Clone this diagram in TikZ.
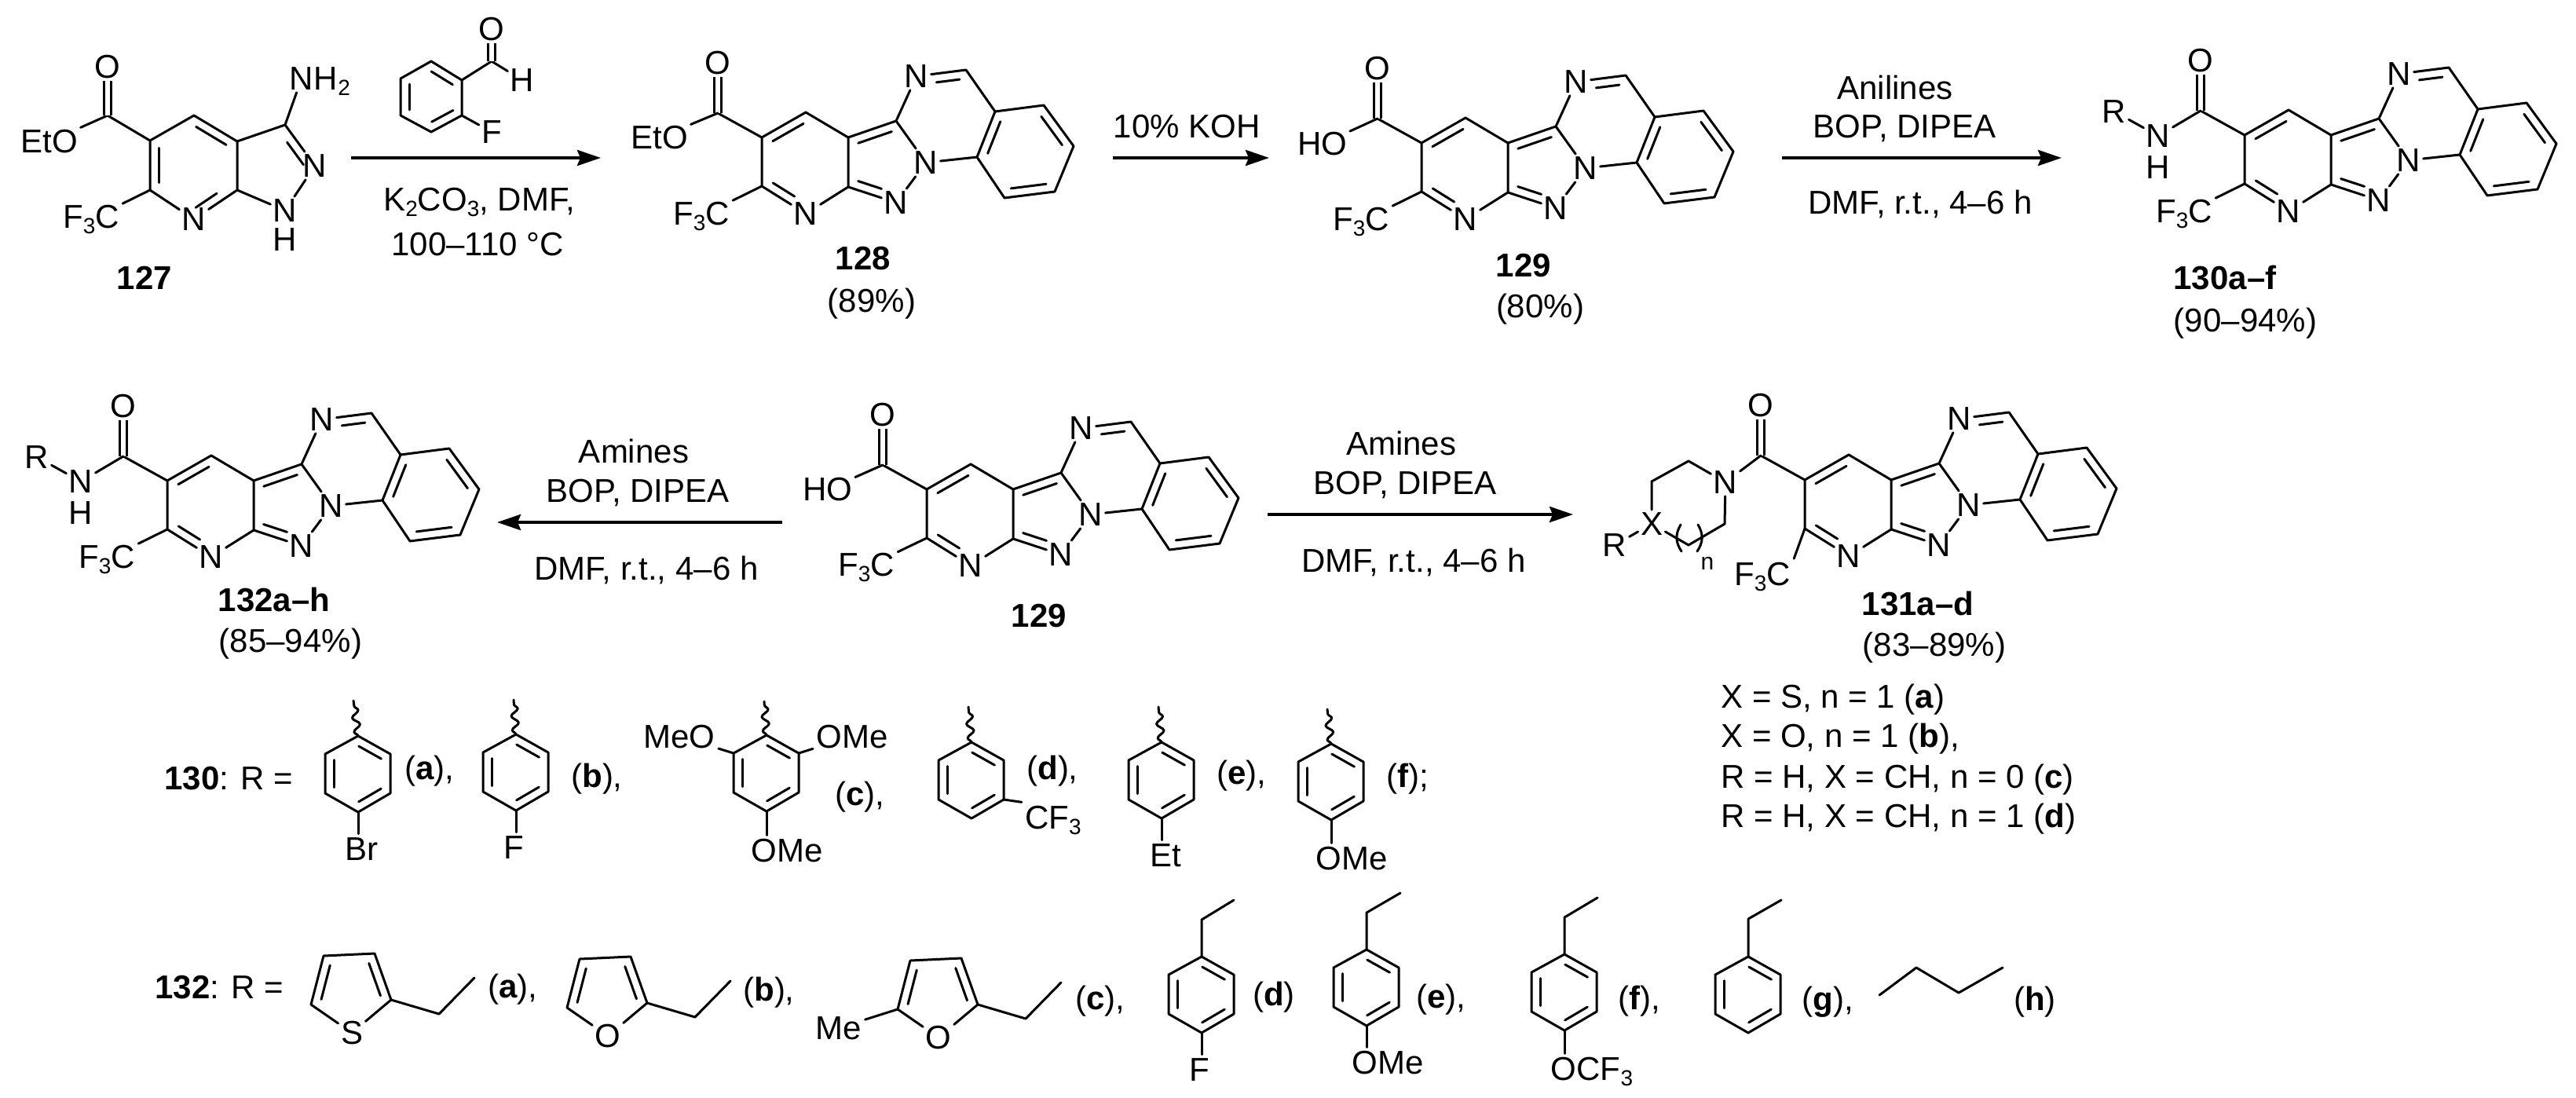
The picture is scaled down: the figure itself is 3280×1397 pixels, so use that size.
\documentclass[tikz,border=0pt]{standalone}
\usepackage{fontspec}
\setmainfont{Liberation Sans}
\usetikzlibrary{calc,arrows.meta,decorations.pathmorphing}

\tikzset{
  bond/.style={line width=1.5pt,line cap=round,line join=round},
  dblbond/.style={line width=1.4pt,double,double distance=3pt},
  wavy/.style={bond,decorate,decoration={snake,amplitude=2.2pt,segment length=9pt}},
  rxnarrow/.style={line width=2.1pt,-{Stealth[length=15pt,width=10pt,inset=2pt]}},
  atom/.style={inner sep=1.5pt},
  lab/.style={inner sep=0pt,anchor=base},
  sublab/.style={inner sep=2pt,anchor=base},
}
\newcommand{\sbs}[1]{\raisebox{-3.5pt}{\fontsize{14}{14}\selectfont #1}}
\newcommand{\inbond}[3][.15]{\draw[bond] ($(#2)!.15!(#3)!5.5pt!90:(#3)$) -- ($(#3)!#1!(#2)!5.5pt!-90:(#2)$);}

% fused four rings, with the carbonyl
\newcommand{\corering}[3]{%
\begin{scope}[shift={(#2,#3)},name prefix=#1-]
  \coordinate (c3) at (0,0);
  \coordinate (c4) at (56,-32);
  \coordinate (c4a) at (110,0);
  \coordinate (c7a) at (110,63);
  \coordinate (c2) at (0,62);
  \coordinate (c3a) at (171,-21);
  \coordinate (ch) at (260,-86);
  \coordinate (c10a) at (297,-33);
  \coordinate (b1) at (359,-41);
  \coordinate (b2) at (397,11);
  \coordinate (b3) at (373,69);
  \coordinate (b4) at (309,77);
  \coordinate (b5) at (274,25);
  \coordinate (co) at (-56,-31);
  \node[atom] (n7) at (56,97) {N};
  \node[atom] (nt) at (197,-78) {N};
  \node[atom] (n1) at (209,32) {N};
  \node[atom] (nl) at (171,83) {N};
  \node[atom] (ox) at (-56,-95) {O};
  \draw[bond] (c3) -- (c4) -- (c4a) -- (c7a) -- (n7) -- (c2) -- (c3);
  \draw[bond] (c4a) -- (c3a) -- (nt) -- (ch) -- (c10a) -- (b1) -- (b2) -- (b3) -- (b4) -- (b5) -- (c10a);
  \draw[bond] (c3a) -- (n1) -- (b5);
  \draw[bond] (c7a) -- (nl) -- (n1);
  \draw[bond] (c3) -- (co);
  \draw[dblbond] (co) -- (ox);
  \inbond{c4}{c3}
  \inbond[.36]{c2}{n7}
  \inbond{c3a}{c4a}
  \inbond[.36]{c7a}{nl}
  \inbond[.38]{ch}{nt}
  \inbond{c10a}{b5}
  \inbond{b4}{b3}
  \inbond{b2}{b1}
\end{scope}}

% benzene ring hanging from its top corner
\newcommand{\phring}[3]{%
\begin{scope}[shift={(#2,#3)},name prefix=#1-]
  \coordinate (p1) at (0,0);
  \coordinate (p2) at (41,23);
  \coordinate (p3) at (41,73);
  \coordinate (p4) at (0,97);
  \coordinate (p5) at (-42,73);
  \coordinate (p6) at (-42,23);
  \draw[bond] (p1) -- (p2) -- (p3) -- (p4) -- (p5) -- (p6) -- cycle;
  \inbond{p2}{p1}
  \inbond{p6}{p5}
  \inbond{p4}{p3}
\end{scope}}

% thiophene or furan with its ethyl arm
\newcommand{\fivering}[4]{%
\begin{scope}[shift={(#2,#3)},name prefix=#1-]
  \coordinate (t1) at (0,0);
  \coordinate (t2) at (65,-3);
  \coordinate (t3) at (86,56);
  \coordinate (t4) at (-16,62);
  \coordinate (e1) at (147,74);
  \coordinate (e2) at (192,28);
  \node[atom] (het) at (36,98) {#4};
  \draw[bond] (t1) -- (t2) -- (t3) -- (het) -- (t4) -- (t1);
  \draw[bond] (t3) -- (e1) -- (e2);
  \inbond{t1}{t4}
  \inbond{t3}{t2}
\end{scope}}

% secondary amide side, hung on the carbonyl of the same prefix
\newcommand{\rnhgroup}[3]{%
\begin{scope}[shift={(#2,#3)},name prefix=#1-]
  \node[atom] (nn) at (-110,1) {N};
  \node[atom] (hh) at (-110,41) {H};
  \node[atom] (rr) at (-166,-30) {R};
  \draw[bond] (co) -- (nn);
  \draw[bond] (rr) -- (nn);
\end{scope}}

\begin{document}
\begin{tikzpicture}[x=.5pt,y=-.5pt,every node/.style={font=\fontsize{21}{25}\selectfont}]
  \useasboundingbox (0,0) rectangle (3280,1397);

  % 127
  \coordinate (s-c5) at (191,179);
  \coordinate (s-c4) at (247,147);
  \coordinate (s-c3a) at (302,180);
  \coordinate (s-c7a) at (302,242);
  \coordinate (s-c6) at (191,242);
  \coordinate (s-c3) at (363,159);
  \coordinate (s-co) at (137,147);
  \node[atom] (s-n7) at (247,279) {N};
  \node[atom] (s-n2) at (401,211) {N};
  \node[atom] (s-n1) at (363,268) {N};
  \node[atom] (s-h1) at (363,305) {H};
  \node[atom] (s-nam) at (384,100) {N};
  \node[lab,anchor=base west,xshift=-1.5pt] (s-h2) at (s-nam.base east) {H\sbs{2}};
  \node[atom] (s-ox) at (137,85) {O};
  \node[atom] (s-eto) at (63,180) {EtO};
  \node[sublab] (s-cf) at (116,290) {F\sbs{3}C};
  \draw[bond] (s-c5) -- (s-c4) -- (s-c3a) -- (s-c7a) -- (s-n7) -- (s-c6) -- (s-c5);
  \draw[bond] (s-c3a) -- (s-c3) -- (s-n2) -- (s-n1) -- (s-c7a);
  \draw[bond] (s-c3) -- (s-nam);
  \draw[bond] (s-c5) -- (s-co) -- (s-eto);
  \draw[bond] (s-c6) -- (s-cf);
  \draw[dblbond] (s-co) -- (s-ox);
  \inbond{s-c5}{s-c6}
  \inbond{s-c3a}{s-c4}
  \inbond[.36]{s-n7}{s-c7a}
  \inbond[.3]{s-n2}{s-c3}
  \node[lab] (s-no) at (184,368) {\textbf{127}};

  % aldehyde over the first arrow
  \coordinate (r1) at (549,78);
  \coordinate (r2) at (588,102);
  \coordinate (r3) at (588,147);
  \coordinate (r4) at (549,168);
  \coordinate (r5) at (510,147);
  \coordinate (r6) at (510,100);
  \coordinate (r-cho) at (626,78);
  \node[atom] (r-ox) at (626,37) {O};
  \node[atom] (r-h) at (665,102) {H};
  \node[atom] (r-f) at (626,168) {F};
  \draw[bond] (r1) -- (r2) -- (r3) -- (r4) -- (r5) -- (r6) -- cycle;
  \inbond{r2}{r1}
  \inbond{r6}{r5}
  \inbond{r4}{r3}
  \draw[bond] (r2) -- (r-cho) -- (r-h);
  \draw[bond] (r3) -- (r-f);
  \draw[dblbond] (r-cho) -- (r-ox);

  \coordinate (ar1a) at (447,201);
  \coordinate (ar1b) at (765,201);
  \draw[rxnarrow] (ar1a) -- (ar1b);
  \node[lab] (ar1c) at (610,268) {K\sbs{2}CO\sbs{3}, DMF,};
  \node[lab] (ar1d) at (608,325) {100–110 °C};

  % 128
  \corering{b}{970}{175}
  \node[atom] (b-eto) at (840,175) {EtO};
  \node[sublab] (b-cf) at (893,286) {F\sbs{3}C};
  \draw[bond] (b-co) -- (b-eto);
  \draw[bond] (b-c2) -- (b-cf);
  \node[lab] (b-no) at (1099,343) {\textbf{128}};
  \node[lab] (b-yd) at (1110,397) {(89\%)};

  \coordinate (ar2a) at (1417,201);
  \coordinate (ar2b) at (1616,201);
  \draw[rxnarrow] (ar2a) -- (ar2b);
  \node[lab] (ar2c) at (1511,175) {10\% KOH};

  % 129
  \corering{c}{1810}{182}
  \node[atom] (c-oh) at (1684,183) {HO};
  \node[sublab] (c-cf) at (1733,293) {F\sbs{3}C};
  \draw[bond] (c-co) -- (c-oh);
  \draw[bond] (c-c2) -- (c-cf);
  \node[lab] (c-no) at (1940,352) {\textbf{129}};
  \node[lab] (c-yd) at (1961,404) {(80\%)};

  \coordinate (ar3a) at (2269,201);
  \coordinate (ar3b) at (2625,201);
  \draw[rxnarrow] (ar3a) -- (ar3b);
  \node[lab] (ar3c) at (2413,126) {Anilines};
  \node[lab] (ar3d) at (2425,175) {BOP, DIPEA};
  \node[lab] (ar3e) at (2445,272) {DMF, r.t., 4–6 h};

  % 130
  \corering{d}{2858}{172}
  \rnhgroup{d}{2858}{172}
  \node[sublab] (d-cf) at (2781,283) {F\sbs{3}C};
  \draw[bond] (d-c2) -- (d-cf);
  \node[lab] (d-no) at (2833,368) {\textbf{130a–f}};
  \node[lab] (d-yd) at (2859,422) {(90–94\%)};

  % 132
  \corering{f}{213}{612}
  \rnhgroup{f}{213}{612}
  \node[sublab] (f-cf) at (136,723) {F\sbs{3}C};
  \draw[bond] (f-c2) -- (f-cf);
  \node[lab] (f-no) at (349,778) {\textbf{132a–h}};
  \node[lab] (f-yd) at (370,830) {(85–94\%)};

  \coordinate (ar4a) at (996,665);
  \coordinate (ar4b) at (633,665);
  \draw[rxnarrow] (ar4a) -- (ar4b);
  \node[lab] (ar4c) at (807,589) {Amines};
  \node[lab] (ar4d) at (812,639) {BOP, DIPEA};
  \node[lab] (ar4e) at (823,738) {DMF, r.t., 4–6 h};

  % 129 again
  \corering{g}{1180}{623}
  \node[atom] (g-oh) at (1054,623) {HO};
  \node[sublab] (g-cf) at (1103,733) {F\sbs{3}C};
  \draw[bond] (g-co) -- (g-oh);
  \draw[bond] (g-c2) -- (g-cf);
  \node[lab] (g-no) at (1323,798) {\textbf{129}};

  \coordinate (ar5a) at (1614,655);
  \coordinate (ar5b) at (2003,655);
  \draw[rxnarrow] (ar5a) -- (ar5b);
  \node[lab] (ar5c) at (1784,579) {Amines};
  \node[lab] (ar5d) at (1789,629) {BOP, DIPEA};
  \node[lab] (ar5e) at (1800,728) {DMF, r.t., 4–6 h};

  % 131
  \corering{h}{2298}{611}
  \node[sublab] (h-cf) at (2244,745) {F\sbs{3}C};
  \draw[bond] (h-c2) -- (h-cf.north east);
  \node[atom] (h-nn) at (2197,614) {N};
  \node[atom] (h-x) at (2103,667) {X};
  \node[atom] (h-r) at (2056,694) {R};
  \coordinate (h-q1) at (2150,587);
  \coordinate (h-q2) at (2103,613);
  \coordinate (h-q3) at (2196,667);
  \coordinate (h-q4) at (2150,694);
  \draw[bond] (h-co) -- (h-nn) -- (h-q1) -- (h-q2) -- (h-x) -- (h-q4) -- (h-q3) -- (h-nn);
  \draw[bond] (h-r) -- (h-x);
  \draw[bond] (2140,668) .. controls (2133,680) and (2133,690) .. (2141,702);
  \draw[bond] (2162,668) .. controls (2169,680) and (2169,690) .. (2161,702);
  \node[lab,font=\fontsize{15}{18}\selectfont] (h-n) at (2174,725) {n};
  \node[lab] (h-no) at (2442,783) {\textbf{131a–d}};
  \node[lab] (h-yd) at (2463,835) {(83–89\%)};
  \node[lab,anchor=base west] (h-l1) at (2191,901) {X = S, n = 1 (\textbf{a})};
  \node[lab,anchor=base west] (h-l2) at (2191,951) {X = O, n = 1 (\textbf{b}),};
  \node[lab,anchor=base west] (h-l3) at (2191,1003) {R = H, X = CH, n = 0 (\textbf{c})};
  \node[lab,anchor=base west] (h-l4) at (2191,1053) {R = H, X = CH, n = 1 (\textbf{d})};

  % R groups of 130
  \node[lab,anchor=base west] (u-title) at (209,1005) {\textbf{130}: R =};

  \phring{ua}{456}{937}
  \coordinate (ua-w) at (450,892);
  \draw[wavy] (ua-p1) -- (ua-w);
  \node[sublab] (ua-br) at (460,1095) {Br};
  \draw[bond] (ua-p4) -- (ua-p4 |- ua-br.north);
  \node[lab] (ua-t) at (547,992) {(\textbf{a}),};

  \phring{ub}{657}{935}
  \coordinate (ub-w) at (654,891);
  \draw[wavy] (ub-p1) -- (ub-w);
  \node[sublab] (ub-f) at (654,1093) {F};
  \draw[bond] (ub-p4) -- (ub-p4 |- ub-f.north);
  \node[lab] (ub-t) at (760,1002) {(\textbf{b}),};

  \phring{uc}{976}{936}
  \coordinate (uc-w) at (973,893);
  \draw[wavy] (uc-p1) -- (uc-w);
  \node[sublab] (uc-a) at (865,952) {MeO};
  \node[sublab] (uc-b) at (1085,952) {OMe};
  \node[sublab] (uc-c) at (1002,1097) {OMe};
  \draw[bond] (uc-p6) -- (uc-a);
  \draw[bond] (uc-p2) -- (uc-b);
  \draw[bond] (uc-p4) -- (uc-p4 |- uc-c.north);
  \node[lab] (uc-t) at (1095,1025) {(\textbf{c}),};

  \phring{ud}{1237}{945}
  \coordinate (ud-w) at (1233,900);
  \draw[wavy] (ud-p1) -- (ud-w);
  \node[sublab] (ud-cf) at (1341,1055) {CF\sbs{3}};
  \draw[bond] (ud-p3) -- (ud-cf.north west);
  \node[lab] (ud-t) at (1340,992) {(\textbf{d}),};

  \phring{ue}{1479}{945}
  \coordinate (ue-w) at (1475,900);
  \draw[wavy] (ue-p1) -- (ue-w);
  \node[sublab] (ue-et) at (1484,1103) {Et};
  \draw[bond] (ue-p4) -- (ue-p4 |- ue-et.north);
  \node[lab] (ue-t) at (1581,998) {(\textbf{e}),};

  \phring{uf}{1695}{947}
  \coordinate (uf-w) at (1690,903);
  \draw[wavy] (uf-p1) -- (uf-w);
  \node[sublab] (uf-me) at (1721,1107) {OMe};
  \draw[bond] (uf-p4) -- (uf-p4 |- uf-me.north);
  \node[lab] (uf-t) at (1792,1002) {(\textbf{f});};

  % R groups of 132
  \node[lab,anchor=base west] (v-title) at (197,1271) {\textbf{132}: R =};

  \fivering{va}{412}{1217}{S}
  \node[lab] (va-t) at (653,1270) {(\textbf{a}),};

  \fivering{vb}{738}{1221}{O}
  \node[lab] (vb-t) at (979,1274) {(\textbf{b}),};

  \fivering{vc}{1159}{1223}{O}
  \node[sublab] (vc-me) at (1068,1323) {Me};
  \draw[bond] (vc-t4) -- (vc-me);
  \node[lab] (vc-t) at (1401,1285) {(\textbf{c}),};

  \phring{vd}{1530}{1218}
  \coordinate (vd-u1) at (1530,1171);
  \coordinate (vd-u2) at (1571,1146);
  \draw[bond] (vd-p1) -- (vd-u1) -- (vd-u2);
  \node[sublab] (vd-f) at (1527,1376) {F};
  \draw[bond] (vd-p4) -- (vd-p4 |- vd-f.north);
  \node[lab] (vd-t) at (1622,1280) {(\textbf{d})};

  \phring{ve}{1740}{1209}
  \coordinate (ve-u1) at (1740,1162);
  \coordinate (ve-u2) at (1783,1137);
  \draw[bond] (ve-p1) -- (ve-u1) -- (ve-u2);
  \node[sublab] (ve-me) at (1767,1367) {OMe};
  \draw[bond] (ve-p4) -- (ve-p4 |- ve-me.north);
  \node[lab] (ve-t) at (1835,1283) {(\textbf{e}),};

  \phring{vf}{1992}{1215}
  \coordinate (vf-u1) at (1992,1168);
  \coordinate (vf-u2) at (2034,1143);
  \draw[bond] (vf-p1) -- (vf-u1) -- (vf-u2);
  \node[sublab] (vf-cf) at (2027,1375) {OCF\sbs{3}};
  \draw[bond] (vf-p4) -- (vf-p4 |- vf-cf.north);
  \node[lab] (vf-t) at (2087,1285) {(\textbf{f}),};

  \phring{vg}{2226}{1218}
  \coordinate (vg-u1) at (2226,1170);
  \coordinate (vg-u2) at (2268,1146);
  \draw[bond] (vg-p1) -- (vg-u1) -- (vg-u2);
  \node[lab] (vg-t) at (2327,1286) {(\textbf{g}),};

  \coordinate (vh-a) at (2393,1267);
  \coordinate (vh-b) at (2440,1232);
  \coordinate (vh-c) at (2494,1264);
  \coordinate (vh-d) at (2550,1232);
  \draw[bond] (vh-a) -- (vh-b) -- (vh-c) -- (vh-d);
  \node[lab] (vh-t) at (2591,1286) {(\textbf{h})};

\end{tikzpicture}
\end{document}
